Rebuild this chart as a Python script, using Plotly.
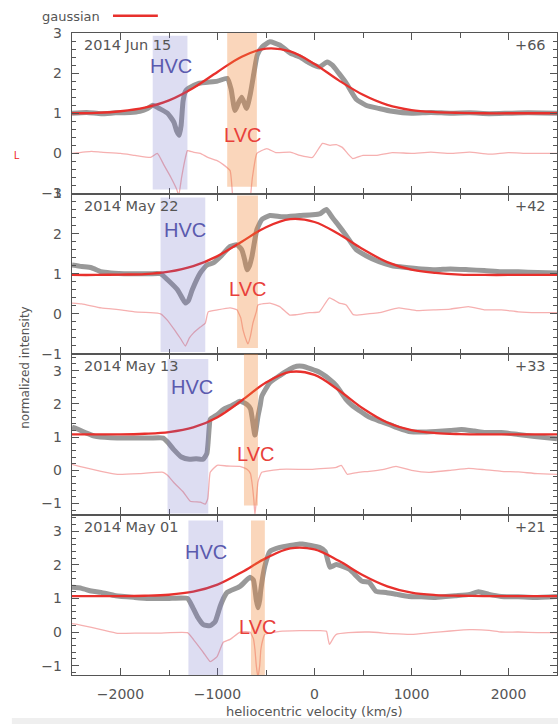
import plotly.graph_objects as go
from plotly.subplots import make_subplots

# ---------------- data ----------------
dates = ["2014 Jun 15", "2014 May 22", "2014 May 13", "2014 May 01"]
phases = ["+66", "+42", "+33", "+21"]

# observed spectra (velocity, normalized intensity)
spec_v1 = [-2500, -2350, -2200, -2050, -1900, -1800, -1720, -1668, -1600, -1515, -1450, -1420, -1395, -1375, -1355, -1330, -1300, -1200, -1000, -900, -860, -820, -780, -750, -700, -660, -620, -590, -540, -460, -360, -250, -150, -50, 50, 130, 184, 250, 327, 430, 530, 665, 800, 1000, 1200, 1400, 1600, 1800, 2000, 2200, 2500]
spec_y1 = [1.0, 1.02, 0.99, 1.01, 1.02, 1.05, 1.12, 1.2, 1.12, 1.0, 0.78, 0.55, 0.45, 0.7, 1.3, 1.55, 1.62, 1.74, 1.8, 1.87, 1.6, 1.07, 1.28, 1.4, 1.12, 1.5, 2.07, 2.45, 2.65, 2.78, 2.7, 2.5, 2.4, 2.25, 2.15, 2.28, 2.2, 2.0, 1.75, 1.35, 1.2, 1.12, 1.05, 1.0, 1.02, 1.0, 1.01, 0.99, 1.0, 1.01, 1.0]

spec_v2 = [-2500, -2400, -2300, -2200, -2100, -1900, -1700, -1587, -1515, -1413, -1360, -1331, -1300, -1260, -1177, -1106, -1044, -960, -870, -800, -750, -720, -696, -670, -645, -594, -543, -460, -327, -154, -20, 60, 123, 184, 250, 327, 430, 532, 665, 800, 901, 1100, 1249, 1400, 1587, 1750, 1925, 2100, 2300, 2500]
spec_y2 = [1.22, 1.18, 1.15, 1.05, 1.02, 1.0, 1.0, 1.0, 0.85, 0.6, 0.38, 0.27, 0.33, 0.6, 1.02, 1.22, 1.27, 1.45, 1.68, 1.72, 1.6, 1.35, 1.1, 1.2, 1.43, 2.1, 2.35, 2.45, 2.42, 2.45, 2.47, 2.5, 2.6, 2.4, 2.2, 1.95, 1.6, 1.45, 1.3, 1.2, 1.17, 1.12, 1.1, 1.12, 1.1, 1.08, 1.05, 1.05, 1.03, 1.02]

spec_v3 = [-2500, -2450, -2350, -2270, -2100, -1900, -1700, -1560, -1515, -1453, -1372, -1290, -1220, -1150, -1110, -1098, -1085, -1075, -1000, -942, -850, -768, -696, -660, -645, -614, -583, -560, -543, -460, -358, -256, -184, -123, 51, 150, 225, 327, 389, 460, 563, 680, 768, 873, 973, 1100, 1249, 1400, 1515, 1650, 1760, 1925, 2100, 2270, 2500]
spec_y3 = [1.3, 1.25, 1.12, 1.03, 0.98, 0.97, 0.97, 0.97, 0.85, 0.63, 0.4, 0.33, 0.35, 0.33, 0.5, 0.8, 1.3, 1.53, 1.68, 1.83, 1.95, 2.08, 1.98, 1.85, 1.62, 1.06, 1.62, 1.95, 2.23, 2.64, 2.85, 3.04, 3.13, 3.13, 2.95, 2.75, 2.55, 2.13, 1.95, 1.8, 1.6, 1.47, 1.38, 1.26, 1.17, 1.15, 1.17, 1.2, 1.23, 1.18, 1.14, 1.14, 1.08, 1.02, 0.95]

spec_v4 = [-2500, -2400, -2300, -2200, -2050, -1855, -1700, -1515, -1310, -1260, -1208, -1146, -1075, -1024, -973, -930, -901, -768, -665, -630, -614, -600, -583, -565, -553, -512, -460, -358, -154, -123, 51, 110, 140, 160, 225, 358, 491, 563, 635, 737, 850, 973, 1100, 1249, 1450, 1600, 1690, 1800, 1925, 2100, 2270, 2500]
spec_y4 = [1.33, 1.3, 1.22, 1.18, 1.08, 1.03, 1.0, 1.0, 1.0, 0.76, 0.46, 0.22, 0.19, 0.31, 0.76, 1.05, 1.18, 1.36, 1.63, 1.55, 1.27, 0.95, 0.72, 0.95, 1.27, 1.96, 2.4, 2.52, 2.62, 2.62, 2.52, 2.4, 2.1, 1.93, 2.01, 1.87, 1.51, 1.48, 1.21, 1.18, 1.12, 1.06, 1.05, 1.03, 1.08, 1.12, 1.2, 1.12, 1.06, 1.05, 1.03, 1.06]

# residuals (observed - gaussian)
res_v1 = [-2500, -2300, -2200, -2000, -1850, -1690, -1620, -1550, -1480, -1420, -1400, -1370, -1330, -1310, -1250, -1177, -1100, -1004, -940, -870, -840, -800, -700, -665, -640, -594, -491, -400, -250, -150, -20, 82, 160, 225, 287, 340, 395, 500, 635, 800, 1000, 1200, 1400, 1600, 1800, 2000, 2200, 2500]
res_y1 = [0.0, 0.05, 0.03, 0.0, -0.05, -0.1, 0.0, -0.3, -0.6, -0.9, -1.05, -0.6, -0.1, 0.07, 0.03, 0.0, -0.1, -0.18, -0.28, -0.43, -1.2, -1.8, -1.8, -1.2, -0.6, 0.0, 0.12, 0.02, 0.03, -0.05, -0.1, 0.25, 0.2, 0.22, 0.15, 0.0, -0.13, -0.05, -0.05, 0.02, 0.0, 0.03, 0.0, 0.03, -0.02, 0.02, 0.0, 0.0]

res_v2 = [-2500, -2400, -2200, -2000, -1855, -1620, -1587, -1520, -1443, -1380, -1331, -1290, -1249, -1177, -1126, -1096, -1000, -870, -800, -760, -737, -700, -686, -660, -635, -600, -583, -460, -358, -256, -184, -51, 50, 154, 256, 327, 399, 430, 550, 665, 870, 1050, 1249, 1400, 1587, 1750, 1925, 2100, 2300, 2500]
res_y2 = [0.27, 0.25, 0.15, 0.1, 0.05, 0.02, 0.0, -0.15, -0.4, -0.62, -0.8, -0.6, -0.48, -0.33, -0.23, 0.05, 0.1, 0.15, 0.1, -0.1, -0.4, -0.68, -0.75, -0.55, -0.23, 0.05, 0.22, 0.27, 0.18, -0.03, -0.02, 0.03, 0.05, 0.4, 0.27, 0.22, -0.02, -0.03, 0.0, 0.03, 0.15, 0.08, 0.1, 0.12, 0.18, 0.1, 0.1, 0.05, 0.03, 0.03]

res_v3 = [-2500, -2400, -2200, -2030, -1800, -1560, -1515, -1453, -1351, -1280, -1177, -1126, -1100, -1085, -1075, -1004, -900, -768, -696, -660, -645, -625, -614, -600, -583, -560, -543, -358, -20, 225, 276, 300, 338, 450, 563, 700, 840, 1000, 1180, 1400, 1587, 1750, 1925, 2100, 2300, 2500]
res_y3 = [0.18, 0.1, -0.03, -0.12, -0.1, -0.06, -0.15, -0.36, -0.66, -0.93, -0.96, -1.02, -0.85, -0.3, -0.06, 0.15, 0.13, 0.12, 0.03, -0.1, -0.36, -0.9, -1.35, -0.9, -0.36, -0.15, -0.06, 0.03, 0.03, 0.09, 0.15, 0.05, -0.12, -0.06, -0.03, 0.02, 0.12, 0.0, -0.06, 0.0, 0.06, 0.02, -0.03, -0.05, -0.1, -0.12]

res_v4 = [-2500, -2400, -2200, -2030, -1800, -1600, -1310, -1249, -1146, -1075, -1004, -942, -870, -768, -665, -630, -614, -600, -583, -565, -553, -530, -512, -358, -154, 51, 123, 140, 154, 200, 225, 350, 563, 800, 1000, 1200, 1400, 1600, 1800, 1925, 2100, 2300, 2500]
res_y4 = [0.25, 0.2, 0.07, -0.04, -0.03, -0.03, -0.02, -0.22, -0.61, -0.88, -0.73, -0.31, -0.22, 0.0, 0.0, -0.2, -0.52, -1.0, -1.35, -1.0, -0.52, -0.2, -0.07, 0.02, 0.04, 0.04, 0.02, -0.2, -0.37, -0.15, -0.07, -0.02, 0.0, -0.05, -0.07, -0.02, 0.03, 0.07, 0.05, 0.0, 0.0, -0.02, -0.02]

# gaussian fits sampled every 250 km/s
gauss_v = [-2500, -2250, -2000, -1750, -1500, -1250, -1000, -750, -500, -250, 0, 250, 500, 750, 1000, 1250, 1500, 1750, 2000, 2250, 2500]
gauss_y1 = [1.00, 1.01, 1.05, 1.14, 1.32, 1.63, 2.03, 2.41, 2.61, 2.54, 2.23, 1.82, 1.46, 1.21, 1.08, 1.03, 1.01, 1.00, 1.00, 1.00, 1.00]
gauss_y2 = [0.97, 0.97, 0.98, 0.99, 1.05, 1.19, 1.44, 1.80, 2.16, 2.36, 2.29, 1.99, 1.61, 1.29, 1.10, 1.02, 0.98, 0.97, 0.97, 0.97, 0.97]
gauss_y3 = [1.08, 1.08, 1.08, 1.10, 1.15, 1.29, 1.60, 2.10, 2.64, 2.96, 2.87, 2.41, 1.86, 1.44, 1.21, 1.12, 1.09, 1.08, 1.08, 1.08, 1.08]
gauss_y4 = [1.07, 1.07, 1.07, 1.08, 1.11, 1.20, 1.41, 1.78, 2.20, 2.49, 2.46, 2.12, 1.69, 1.36, 1.17, 1.10, 1.08, 1.07, 1.07, 1.07, 1.07]

# shaded velocity windows
hvc_lo = [-1668, -1587, -1515, -1300]
hvc_hi = [-1310, -1126, -1095, -942]
hvc_top = [2.93, 2.9, 3.35, 3.32]
hvc_bot = [-0.9, -0.95, -1.3, -1.3]
lvc_lo = [-900, -798, -727, -655]
lvc_hi = [-594, -583, -583, -512]
lvc_top = [3.0, 2.95, 3.5, 3.32]
lvc_bot = [-0.83, -0.85, -1.06, -1.3]

# label positions (data units)
hvc_lab_x = [-1484, -1331, -1260, -1116]
hvc_lab_y = [2.17, 2.1, 2.5, 2.37]
lvc_lab_x = [-747, -686, -604, -583]
lvc_lab_y = [0.45, 0.62, 0.48, 0.16]

y_ranges = [[-1, 3], [-1, 3], [-1.33, 3.5], [-1.28, 3.5]]
x_ticks = [-2000, -1000, 0, 1000, 2000]
y_ticks = [-1, 0, 1, 2, 3]

spec_v = [spec_v1, spec_v2, spec_v3, spec_v4]
spec_y = [spec_y1, spec_y2, spec_y3, spec_y4]
res_v = [res_v1, res_v2, res_v3, res_v4]
res_y = [res_y1, res_y2, res_y3, res_y4]
gauss_y = [gauss_y1, gauss_y2, gauss_y3, gauss_y4]

# ---------------- figure ----------------
FONT = "DejaVu Sans"
AX = "#555555"
fig = make_subplots(rows=4, cols=1, shared_xaxes=True, vertical_spacing=0)

for i in range(4):
    r = i + 1
    fig.add_trace(go.Scatter(x=spec_v[i], y=spec_y[i], mode="lines",
                             line=dict(color="#999999", width=5, shape="spline", smoothing=0.5),
                             showlegend=False, hoverinfo="skip"), row=r, col=1)
    fig.add_trace(go.Scatter(x=res_v[i], y=res_y[i], mode="lines",
                             line=dict(color="#f6b0b0", width=1.3, shape="spline", smoothing=0.4),
                             showlegend=False, hoverinfo="skip"), row=r, col=1)
    fig.add_trace(go.Scatter(x=gauss_v, y=gauss_y[i], mode="lines",
                             line=dict(color="#e8302c", width=2.3, shape="spline"),
                             name="gaussian", showlegend=False), row=r, col=1)
    fig.add_shape(type="rect", x0=hvc_lo[i], x1=hvc_hi[i], y0=hvc_bot[i], y1=hvc_top[i],
                  fillcolor="rgba(110,110,200,0.23)", line_width=0, layer="above", row=r, col=1)
    fig.add_shape(type="rect", x0=lvc_lo[i], x1=lvc_hi[i], y0=lvc_bot[i], y1=lvc_top[i],
                  fillcolor="rgba(240,130,50,0.33)", line_width=0, layer="above", row=r, col=1)

    sfx = "" if r == 1 else str(r)
    fig.add_annotation(text=dates[i], xref=f"x{sfx} domain", yref=f"y{sfx} domain",
                       x=0.02, y=0.925, xanchor="left", yanchor="middle", showarrow=False,
                       font=dict(family=FONT, size=14.5, color=AX))
    fig.add_annotation(text=phases[i], xref=f"x{sfx} domain", yref=f"y{sfx} domain",
                       x=0.981, y=0.925, xanchor="right", yanchor="middle", showarrow=False,
                       font=dict(family=FONT, size=14.5, color=AX))
    fig.add_annotation(text="HVC", xref=f"x{sfx}", yref=f"y{sfx}", x=hvc_lab_x[i], y=hvc_lab_y[i],
                       showarrow=False, font=dict(family="Liberation Sans", size=20, color="#5a5aae"))
    fig.add_annotation(text="LVC", xref=f"x{sfx}", yref=f"y{sfx}", x=lvc_lab_x[i], y=lvc_lab_y[i],
                       showarrow=False, font=dict(family="Liberation Sans", size=20, color="#e8403a"))

    fig.update_yaxes(row=r, col=1, range=y_ranges[i], tickvals=y_ticks, ticks="inside", ticklen=7,
                     tickcolor=AX, tickwidth=1.2, showline=True, linecolor=AX, linewidth=1.4,
                     mirror="ticks", showgrid=False, zeroline=False, ticklabelstandoff=6,
                     tickfont=dict(family=FONT, size=14, color=AX),
                     minor=dict(dtick=0.2, tick0=0, ticks="inside", ticklen=3.5, tickcolor=AX, tickwidth=1))
    fig.update_xaxes(row=r, col=1, range=[-2500, 2500], tickvals=x_ticks, ticks="inside", ticklen=7,
                     tickcolor=AX, tickwidth=1.2, showline=True, linecolor=AX, linewidth=1.4,
                     mirror="ticks", showgrid=False, zeroline=False, showticklabels=(r == 4),
                     ticklabelstandoff=6, tickfont=dict(family=FONT, size=14, color=AX),
                     minor=dict(dtick=500, tick0=0, ticks="inside", ticklen=5, tickcolor=AX, tickwidth=1))

# axis titles
fig.add_annotation(text="heliocentric velocity (km/s)", xref="paper", yref="paper",
                   x=0.5, y=-0.057, xanchor="center", yanchor="middle", showarrow=False,
                   font=dict(family=FONT, size=13, color=AX))
fig.add_annotation(text="normalized intensity", xref="paper", yref="paper", textangle=-90,
                   x=-0.097, y=0.48, xanchor="center", yanchor="middle", showarrow=False,
                   font=dict(family=FONT, size=12, color=AX))

# legend (text + sample line)
fig.add_annotation(text="gaussian", xref="paper", yref="paper", x=-0.066, y=1.026,
                   xanchor="left", yanchor="middle", showarrow=False,
                   font=dict(family=FONT, size=13, color=AX))
fig.add_shape(type="line", xref="paper", yref="paper", x0=0.0845, x1=0.177, y0=1.027, y1=1.027,
              line=dict(color="#e8302c", width=2.5))

# stray red mark at the left edge
fig.add_annotation(text="L", xref="paper", yref="paper", x=-0.124, y=0.821, showarrow=False,
                   font=dict(family="Liberation Sans", size=10, color="#ee2020"))

# light strip at the bottom
fig.add_shape(type="rect", xref="paper", yref="paper", x0=-0.124, x1=1.01, y0=-0.0765, y1=-0.067,
              fillcolor="#efefef", line_width=0, layer="below")

fig.update_layout(width=558, height=724, margin=dict(l=72, r=1, t=33, b=49),
                  plot_bgcolor="white", paper_bgcolor="white", showlegend=False)

fig.write_html("out.html")
